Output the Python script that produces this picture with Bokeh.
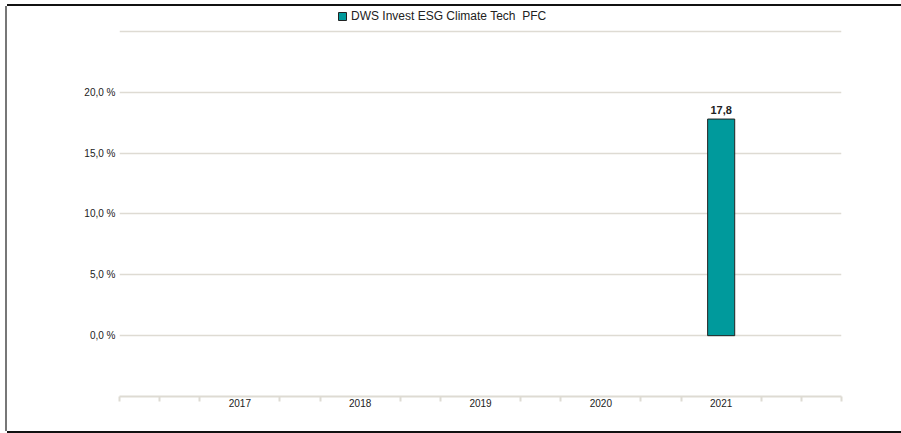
from bokeh.plotting import figure
from bokeh.models import FixedTicker, Legend, LegendItem, ColumnDataSource, Range1d
from bokeh.core.properties import value
from bokeh.embed import file_html
from bokeh.resources import INLINE

years = [2021]
returns = [17.8]
labels = ["17,8"]
series_name = "DWS Invest ESG Climate Tech  PFC"
x_ticks = [2017, 2018, 2019, 2020, 2021]
y_ticks = [0, 5, 10, 15, 20, 25]
y_tick_labels = ["0,0 %", "5,0 %", "10,0 %", "15,0 %", "20,0 %", ""]

FONT = "Liberation Sans"
GRID = "#dedbd3"

src = ColumnDataSource(dict(x=years, top=returns, lab=labels))

p = figure(width=894, height=425, output_backend="svg", toolbar_location=None,
           x_range=Range1d(2016, 2022), y_range=Range1d(-5, 27.05),
           min_border_left=112, min_border_right=60, min_border_top=0, min_border_bottom=35)
p.styles = {"margin-left": "7px", "margin-top": "6px",
            "box-shadow": "0 -2px 0 #111, 0 2px 0 #111, -2px 0 0 #777"}
p.outline_line_color = None
p.background_fill_color = "white"
p.border_fill_color = "white"

bars = p.vbar(x="x", top="top", bottom=0, width=0.225, source=src,
              fill_color="#009a9c", line_color="#222222", line_width=1)
p.text(x="x", y="top", text="lab", source=src, text_align="center", text_baseline="bottom",
       y_offset=-5, text_font=value(FONT), text_font_size="11px", text_font_style="bold",
       text_color="#222222")

minor = [2016 + k / 3 for k in range(19) if k % 3 != 0 or k in (0, 18)]
p.xaxis.ticker = FixedTicker(ticks=x_ticks, minor_ticks=minor)
p.xaxis.major_tick_out = 0
p.xaxis.major_tick_in = 0
p.xaxis.minor_tick_out = 5
p.xaxis.minor_tick_in = 0
p.xaxis.minor_tick_line_color = GRID
p.xaxis.minor_tick_line_width = 2
p.xaxis.axis_line_color = GRID
p.xaxis.axis_line_width = 2
p.xaxis.major_label_standoff = -3
p.xaxis.major_label_text_font = FONT
p.xaxis.major_label_text_font_size = "10px"
p.xaxis.major_label_text_color = "#222222"
p.xgrid.visible = False

p.yaxis.ticker = FixedTicker(ticks=y_ticks)
p.yaxis.major_label_overrides = {t: l for t, l in zip(y_ticks, y_tick_labels)}
p.yaxis.axis_line_color = None
p.yaxis.major_tick_line_color = None
p.yaxis.major_tick_out = 0
p.yaxis.major_tick_in = 0
p.yaxis.minor_tick_line_color = None
p.yaxis.major_label_standoff = 4
p.yaxis.major_label_text_font = FONT
p.yaxis.major_label_text_font_size = "10px"
p.yaxis.major_label_text_color = "#222222"
p.ygrid.grid_line_color = GRID
p.ygrid.grid_line_width = 1.5

legend = Legend(items=[LegendItem(label=series_name, renderers=[bars])],
                location=(218, 373), orientation="horizontal",
                padding=0, margin=0, border_line_alpha=0, background_fill_alpha=0,
                glyph_width=10, glyph_height=10, label_height=12, label_standoff=4,
                label_text_font=FONT, label_text_font_size="12px", label_text_color="#222222")
p.add_layout(legend, "center")

open("out.html", "w").write(file_html(p, INLINE))
